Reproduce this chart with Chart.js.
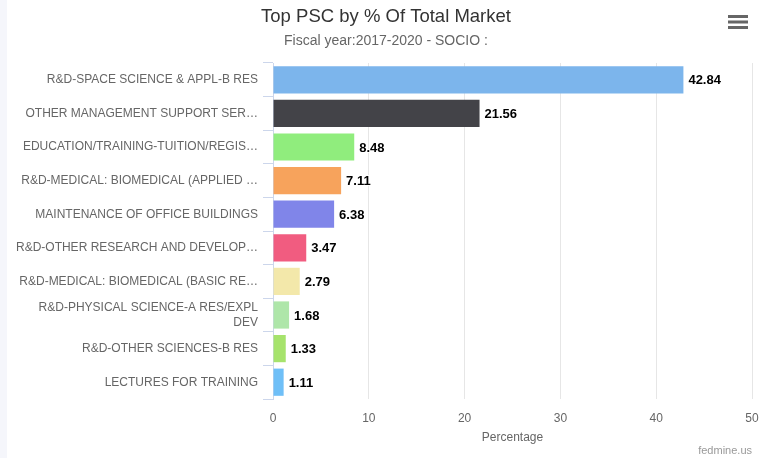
<!DOCTYPE html>
<html>
<head>
<meta charset="utf-8">
<script src="https://cdn.jsdelivr.net/npm/chart.js@4"></script>
<style>
  html, body { margin: 0; padding: 0; background: #f5f6fb; width: 761px; height: 458px; overflow: hidden; }
  #wrap { position: absolute; left: 7px; top: 0; width: 754px; height: 458px; background: #ffffff; }
  canvas { display: block; }
</style>
</head>
<body>
<div id="wrap"><canvas id="c" width="754" height="458"></canvas></div>
<script>
const categories = [
  "R&D-SPACE SCIENCE & APPL-B RES",
  "OTHER MANAGEMENT SUPPORT SER\u2026",
  "EDUCATION/TRAINING-TUITION/REGIS\u2026",
  "R&D-MEDICAL: BIOMEDICAL (APPLIED \u2026",
  "MAINTENANCE OF OFFICE BUILDINGS",
  "R&D-OTHER RESEARCH AND DEVELOP\u2026",
  "R&D-MEDICAL: BIOMEDICAL (BASIC RE\u2026",
  ["R&D-PHYSICAL SCIENCE-A RES/EXPL", "DEV"],
  "R&D-OTHER SCIENCES-B RES",
  "LECTURES FOR TRAINING"
];
const percentages = [42.84, 21.56, 8.48, 7.11, 6.38, 3.47, 2.79, 1.68, 1.33, 1.11];
const barColors = ["#7cb5ec", "#434348", "#90ed7d", "#f7a35c", "#8085e9", "#f15c80", "#f3e8aa", "#aee6a9", "#a6e36c", "#6fbff7"];
const xTicks = [0, 10, 20, 30, 40, 50];

const FONT = "'Liberation Sans', Arial, sans-serif";

const dataLabels = {
  id: 'dataLabels',
  afterDatasetsDraw(chart) {
    const ctx = chart.ctx;
    const meta = chart.getDatasetMeta(0);
    ctx.save();
    ctx.font = "bold 13px " + FONT;
    ctx.textAlign = 'left';
    ctx.textBaseline = 'middle';
    ctx.lineJoin = 'round';
    meta.data.forEach((el, i) => {
      const txt = percentages[i].toFixed(2);
      ctx.strokeStyle = '#ffffff';
      ctx.lineWidth = 2;
      ctx.strokeText(txt, el.x + 5, el.y + 1);
      ctx.fillStyle = '#000000';
      ctx.fillText(txt, el.x + 5, el.y + 1);
    });
    ctx.restore();
  }
};

const extras = {
  id: 'extras',
  afterDraw(chart) {
    const ctx = chart.ctx;
    const w = chart.width;
    ctx.save();
    ctx.fillStyle = '#666666';
    [16.5, 22, 27.5].forEach(y => ctx.fillRect(w - 33, y - 1.5, 20, 3));
    ctx.font = "11px " + FONT;
    ctx.fillStyle = '#999999';
    ctx.textAlign = 'right';
    ctx.textBaseline = 'middle';
    ctx.fillText('fedmine.us', w - 9, 451);
    ctx.restore();
  }
};

new Chart(document.getElementById('c'), {
  type: 'bar',
  data: {
    labels: categories,
    datasets: [{
      data: percentages,
      backgroundColor: barColors,
      borderWidth: 0,
      barPercentage: 0.81,
      categoryPercentage: 1.0
    }]
  },
  options: {
    indexAxis: 'y',
    responsive: false,
    devicePixelRatio: 1,
    animation: false,
    layout: { padding: { left: 4, right: 0, top: 0, bottom: 0 } },
    plugins: {
      legend: { display: false },
      tooltip: { enabled: false },
      title: {
        display: true,
        text: 'Top PSC by % Of Total Market',
        color: '#333333',
        font: { family: FONT, size: 18.5, weight: 'normal' },
        padding: { top: 6, bottom: 2 }
      },
      subtitle: {
        display: true,
        text: 'Fiscal year:2017-2020 - SOCIO :',
        color: '#666666',
        font: { family: FONT, size: 14, weight: 'normal' },
        padding: { top: 2.4, bottom: 13.6 }
      }
    },
    scales: {
      x: {
        type: 'linear',
        min: 0,
        max: 50,
        afterBuildTicks(scale) { scale.ticks = xTicks.map(v => ({ value: v })); },
        afterFit(scale) { scale.height = 59; scale.paddingRight = 9; scale.paddingLeft = 0; },
        border: { display: false },
        grid: {
          color: ctx => (ctx.tick && ctx.tick.value === 0) ? 'rgba(0,0,0,0)' : '#e6e6e6',
          lineWidth: 1,
          drawTicks: false
        },
        ticks: {
          color: '#666666',
          font: { family: FONT, size: 12 },
          padding: 12,
          maxRotation: 0
        },
        title: {
          display: true,
          text: 'Percentage',
          color: '#666666',
          font: { family: FONT, size: 12 },
          padding: { top: 0, bottom: 13 }
        }
      },
      y: {
        type: 'category',
        afterFit(scale) { scale.width = 262; },
        border: { display: true, color: '#ccd6eb', width: 1 },
        grid: {
          offset: true,
          drawOnChartArea: false,
          drawTicks: true,
          tickLength: 10,
          color: '#ccd6eb'
        },
        ticks: {
          color: '#666666',
          font: { family: FONT, size: 12 },
          padding: 5,
          autoSkip: false
        }
      }
    }
  },
  plugins: [dataLabels, extras]
});
</script>
</body>
</html>
